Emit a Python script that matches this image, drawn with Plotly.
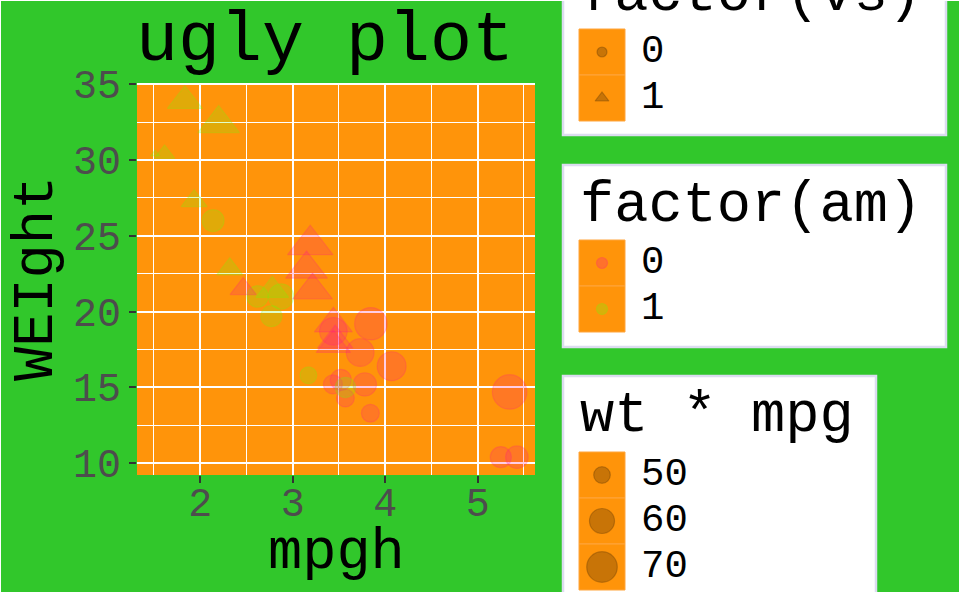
import numpy as np
import plotly.graph_objects as go

# ---- data (mtcars) ----
wt = [2.620, 2.875, 2.320, 3.215, 3.440, 3.460, 3.570, 3.190, 3.150, 3.440, 3.440,
      4.070, 3.730, 3.780, 5.250, 5.424, 5.345, 2.200, 1.615, 1.835, 2.465, 3.520,
      3.435, 3.840, 3.845, 1.935, 2.140, 1.513, 3.170, 2.770, 3.570, 2.780]
mpg = [21.0, 21.0, 22.8, 21.4, 18.7, 18.1, 14.3, 24.4, 22.8, 19.2, 17.8, 16.4, 17.3,
       15.2, 10.4, 10.4, 14.7, 32.4, 30.4, 33.9, 21.5, 15.5, 15.2, 13.3, 19.2, 27.3,
       26.0, 30.4, 15.8, 19.7, 15.0, 21.4]
vs = [0, 0, 1, 1, 0, 1, 0, 1, 1, 1, 1, 0, 0, 0, 0, 0, 0, 1, 1, 1, 1, 0, 0, 0, 0, 1,
      0, 1, 0, 0, 0, 1]
am = [1, 1, 1, 0, 0, 0, 0, 0, 0, 0, 0, 0, 0, 0, 0, 0, 0, 1, 1, 1, 0, 0, 0, 0, 0, 1,
      1, 1, 1, 1, 1, 1]
vs_levels = [0, 1]
am_levels = [0, 1]
size_breaks = [50, 60, 70]
x_ticks = [2, 3, 4, 5]
y_ticks = [10, 15, 20, 25, 30, 35]

# ---- styling ----
W, H = 960, 593
GREEN = "#31C72B"
ORANGE = "#FF940A"
ALPHA = 0.3
AM_RGB = {0: (255, 20, 140), 1: (110, 255, 10)}
SHAPE = {0: "circle", 1: "triangle-up"}
TITLE_FONT = "Liberation Mono, Courier New, monospace"
TICK_FONT = "Liberation Mono, monospace"
TRI = 1.15


def rgba(rgb, a=ALPHA):
    return "rgba(%d,%d,%d,%.2f)" % (rgb[0], rgb[1], rgb[2], a)


prod = [w * m for w, m in zip(wt, mpg)]
pmin, pmax = min(prod), max(prod)


def size_px(v):
    t = min(max((v - pmin) / (pmax - pmin), 0), 1)
    s = 1 + 5 * np.sqrt(t)
    return 5.5 * s + 1.5


def expand(vals):
    lo, hi = min(vals), max(vals)
    e = (hi - lo) * 0.05
    return [lo - e, hi + e]


sizes = [size_px(p) * (TRI if v == 1 else 1) for p, v in zip(prod, vs)]
cols = [rgba(AM_RGB[a]) for a in am]
syms = [SHAPE[v] for v in vs]

fig = go.Figure()
fig.add_trace(go.Scatter(
    x=wt, y=mpg, mode="markers", showlegend=False, hoverinfo="skip",
    marker=dict(size=sizes, color=cols, symbol=syms,
                line=dict(color=cols, width=1.2)),
    xaxis="x", yaxis="y"))

# panel geometry (pixels)
PL, PR, PT, PB = 137, 535, 83, 475


def px(x):
    return x / W


def py(y):
    return 1 - y / H


shapes = [dict(type="rect", xref="x domain", yref="y domain", x0=0, x1=1, y0=0, y1=1,
               fillcolor=ORANGE, line=dict(width=0), layer="below")]
annotations = []

# ---- legends (drawn by hand, keys through the same scales) ----
KX0, KX1, KH = 579, 625, 46
KC = (KX0 + KX1) / 2
LEG_BORDER = "#DCDCF0"
legends = [
    dict(box=(563, -46, 946, 135), title="factor(vs)", tb=11, kt=29,
         labels=[str(v) for v in vs_levels],
         sym=[SHAPE[v] for v in vs_levels],
         size=[10, 12], col=["rgba(0,0,0,0.3)"] * 2),
    dict(box=(563, 165, 946, 347), title="factor(am)", tb=222, kt=240,
         labels=[str(a) for a in am_levels],
         sym=["circle", "circle"],
         size=[11, 11], col=[rgba(AM_RGB[a], 0.38) for a in am_levels]),
    dict(box=(563, 376, 876, 620), title="wt * mpg", tb=432, kt=452,
         labels=[str(b) for b in size_breaks],
         sym=["circle"] * 3,
         size=[size_px(b) for b in size_breaks], col=["rgba(0,0,0,0.3)"] * 3),
]

for lg in legends:
    x0, y0, x1, y1 = lg["box"]
    shapes.append(dict(type="rect", xref="paper", yref="paper",
                       x0=px(x0), x1=px(x1), y0=py(y0), y1=py(y1),
                       fillcolor="white", line=dict(color=LEG_BORDER, width=2.5),
                       layer="below"))
    annotations.append(dict(text=lg["title"], xref="paper", yref="paper",
                            x=px(578), y=py(lg["tb"] - 0.32 * 57 + 2),
                            xanchor="left", yanchor="middle", showarrow=False,
                            font=dict(family=TITLE_FONT, size=57, color="black")))
    ys = []
    for i, lab in enumerate(lg["labels"]):
        kt = lg["kt"] + i * KH
        shapes.append(dict(type="rect", xref="paper", yref="paper",
                           x0=px(KX0), x1=px(KX1), y0=py(kt), y1=py(kt + KH),
                           fillcolor=ORANGE, line=dict(color="#FFA53C", width=1),
                           layer="below"))
        yc = kt + KH / 2
        ys.append(yc)
        annotations.append(dict(text=lab, xref="paper", yref="paper",
                                x=px(639), y=py(yc), xanchor="left", yanchor="middle",
                                showarrow=False,
                                font=dict(family=TICK_FONT, size=39, color="black")))
    fig.add_trace(go.Scatter(
        x=[KC] * len(ys), y=ys, mode="markers", showlegend=False, hoverinfo="skip",
        marker=dict(size=lg["size"], symbol=lg["sym"], color=lg["col"],
                    line=dict(color=lg["col"], width=1.2)),
        xaxis="x2", yaxis="y2"))

# plot title and axis titles
annotations.append(dict(text="ugly plot", xref="paper", yref="paper",
                        x=px(PL - 3), y=py(41), xanchor="left",
                        yanchor="middle", showarrow=False,
                        font=dict(family=TITLE_FONT, size=70, color="black")))
annotations.append(dict(text="mpgh", xref="paper", yref="paper",
                        x=px((PL + PR) / 2), y=py(553), xanchor="center",
                        yanchor="middle", showarrow=False,
                        font=dict(family=TITLE_FONT, size=57, color="black")))
annotations.append(dict(text="WEIght", xref="paper", yref="paper",
                        x=px(37), y=py((PT + PB) / 2), xanchor="center",
                        yanchor="middle", showarrow=False, textangle=-90,
                        font=dict(family=TITLE_FONT, size=57, color="black")))

# outer white border of the plot background
shapes.append(dict(type="rect", xref="paper", yref="paper", x0=0, x1=1, y0=0, y1=1,
                   line=dict(color="white", width=2), layer="above"))

axis_common = dict(
    showgrid=True, gridcolor="white", gridwidth=2.4, zeroline=False, showline=False,
    ticks="outside", ticklen=7, tickwidth=2.2, tickcolor="#333333", automargin=False,
    tickfont=dict(family=TICK_FONT, size=40, color="#4D4D4D"),
)

fig.update_layout(
    template="none",
    width=W, height=H, margin=dict(l=0, r=0, t=0, b=0, pad=0, autoexpand=False),
    paper_bgcolor=GREEN, plot_bgcolor="rgba(0,0,0,0)", showlegend=False,
    xaxis=dict(domain=[PL / W, PR / W], range=expand(wt), tickvals=x_ticks,
               ticklabelstandoff=-15,
               minor=dict(tickvals=[t + 0.5 for t in [1] + x_ticks], showgrid=True,
                          gridcolor="white", gridwidth=1.2, ticks=""),
               anchor="y", **axis_common),
    yaxis=dict(domain=[1 - PB / H, 1 - PT / H], range=expand(mpg), tickvals=y_ticks,
               minor=dict(tickvals=[t + 2.5 for t in y_ticks], showgrid=True,
                          gridcolor="white", gridwidth=1.2, ticks=""),
               anchor="x", **axis_common),
    xaxis2=dict(domain=[0, 1], range=[0, W], visible=False, anchor="y2",
                fixedrange=True, automargin=False),
    yaxis2=dict(domain=[0, 1], range=[H, 0], visible=False, anchor="x2",
                fixedrange=True, automargin=False),
    shapes=shapes, annotations=annotations,
)

fig.write_html("out.html", config={"displayModeBar": False},
               post_script="document.body.style.margin='0';"
                           "document.body.style.overflow='hidden';")
